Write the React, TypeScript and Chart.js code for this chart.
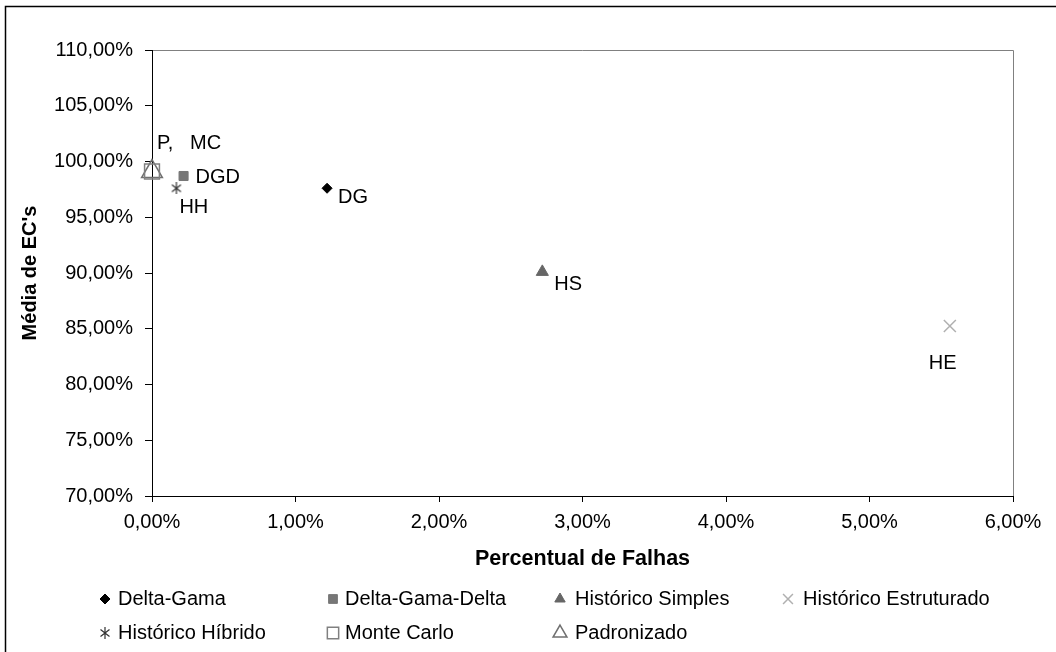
import React, { useEffect, useRef } from 'react';
import { Chart, registerables } from 'chart.js';
import { drawPoint } from 'chart.js/helpers';

Chart.register(...registerables);

// Series (one point each): failure percentage vs. average EC
const seriesNames = [
  'Delta-Gama',
  'Delta-Gama-Delta',
  'Histórico Simples',
  'Histórico Estruturado',
  'Histórico Híbrido',
  'Monte Carlo',
  'Padronizado',
];
const failurePct = [1.22, 0.22, 2.72, 5.56, 0.17, 0.0, 0.0];
const avgEC = [97.6, 98.7, 90.1, 85.25, 97.6, 99.1, 99.1];
const pointTags = ['DG', 'DGD', 'HS', 'HE', 'HH', 'P,   MC', ''];

const xTickValues = [0, 1, 2, 3, 4, 5, 6];
const yTickValues = [70, 75, 80, 85, 90, 95, 100, 105, 110];

const xTitle = 'Percentual de Falhas';
const yTitle = "Média de EC's";

const FONT = '"Liberation Sans", Arial, Helvetica, sans-serif';

// Excel-style asterisk marker: an x with a vertical stroke
function makeAsterisk(size: number, color: string): HTMLCanvasElement {
  const c = document.createElement('canvas');
  c.width = size;
  c.height = size;
  const g = c.getContext('2d')!;
  g.strokeStyle = color;
  g.lineWidth = 1.2;
  g.beginPath();
  const p = 1.5;
  g.moveTo(p, p + 1);
  g.lineTo(size - p, size - p - 1);
  g.moveTo(size - p, p + 1);
  g.lineTo(p, size - p - 1);
  g.moveTo(size / 2, 0);
  g.lineTo(size / 2, size);
  g.stroke();
  return c;
}

type Marker = {
  style: any;
  radius: number;
  legendRadius: number;
  fill: string;
  stroke: string;
  width: number;
};

function buildMarkers(): Marker[] {
  const asterisk = makeAsterisk(12, '#333333');
  return [
    { style: 'rectRot', radius: 5, legendRadius: 5, fill: '#000000', stroke: '#000000', width: 1 },
    { style: 'rect', radius: 6.4, legendRadius: 6.2, fill: '#777777', stroke: '#777777', width: 1 },
    { style: 'triangle', radius: 7, legendRadius: 6, fill: '#666666', stroke: '#666666', width: 1 },
    { style: 'crossRot', radius: 8.5, legendRadius: 7, fill: 'rgba(0,0,0,0)', stroke: '#b0b0b0', width: 1.5 },
    { style: asterisk, radius: 6, legendRadius: 6, fill: 'rgba(0,0,0,0)', stroke: '#333333', width: 1 },
    { style: 'rect', radius: 10.5, legendRadius: 8, fill: 'rgba(0,0,0,0)', stroke: '#808080', width: 1.5 },
    { style: 'triangle', radius: 12, legendRadius: 8, fill: 'rgba(0,0,0,0)', stroke: '#707070', width: 1.5 },
  ];
}

// text offsets of the point tags relative to their marker
const tagOffsets = [
  [11, 9],
  [12, 1],
  [12, 13],
  [-21, 38],
  [3, 19],
  [5, -28],
  [0, 0],
];

const legendMarkerX = [105, 333, 560, 788];
const legendTextX = [118, 345, 575, 803];
const legendRowY = [599, 633];

const fmtPct = (v: number) => v.toFixed(2).replace('.', ',') + '%';

export default function App() {
  const canvasRef = useRef<HTMLCanvasElement | null>(null);

  useEffect(() => {
    const canvas = canvasRef.current;
    if (!canvas) return;
    const markers = buildMarkers();

    const framePlugin = {
      id: 'frame',
      beforeDraw(chart: any) {
        const { ctx, width, height, chartArea } = chart;
        ctx.save();
        ctx.fillStyle = '#ffffff';
        ctx.fillRect(0, 0, width, height);
        // outer chart border
        ctx.strokeStyle = '#000000';
        ctx.lineWidth = 1.5;
        ctx.beginPath();
        ctx.moveTo(5.5, height + 2);
        ctx.lineTo(5.5, 6.5);
        ctx.lineTo(width + 2, 6.5);
        ctx.stroke();
        // plot area border (top and right)
        ctx.strokeStyle = '#808080';
        ctx.lineWidth = 1;
        ctx.beginPath();
        ctx.moveTo(chartArea.left, Math.round(chartArea.top) + 0.5);
        ctx.lineTo(Math.round(chartArea.right) + 0.5, Math.round(chartArea.top) + 0.5);
        ctx.lineTo(Math.round(chartArea.right) + 0.5, chartArea.bottom);
        ctx.stroke();
        ctx.restore();
      },
    };

    const tagPlugin = {
      id: 'pointTags',
      afterDatasetsDraw(chart: any) {
        const ctx = chart.ctx;
        ctx.save();
        ctx.font = `20px ${FONT}`;
        ctx.fillStyle = '#000000';
        ctx.textAlign = 'left';
        ctx.textBaseline = 'middle';
        chart.data.datasets.forEach((_: any, i: number) => {
          const tag = pointTags[i];
          if (!tag) return;
          const el = chart.getDatasetMeta(i).data[0];
          if (!el) return;
          ctx.fillText(tag, el.x + tagOffsets[i][0], el.y + tagOffsets[i][1]);
        });
        ctx.restore();
      },
    };

    const legendPlugin = {
      id: 'gridLegend',
      afterDraw(chart: any) {
        const ctx = chart.ctx;
        ctx.save();
        ctx.font = `20px ${FONT}`;
        ctx.textAlign = 'left';
        ctx.textBaseline = 'middle';
        seriesNames.forEach((name, i) => {
          const col = i % 4;
          const row = Math.floor(i / 4);
          const m = markers[i];
          const x = legendMarkerX[col];
          const y = legendRowY[row];
          ctx.fillStyle = m.fill;
          ctx.strokeStyle = m.stroke;
          ctx.lineWidth = m.width;
          drawPoint(ctx, { pointStyle: m.style, radius: m.legendRadius, rotation: 0, borderWidth: m.width }, x, y);
          ctx.fillStyle = '#000000';
          ctx.fillText(name, legendTextX[col], y);
        });
        ctx.restore();
      },
    };

    const chart = new Chart(canvas, {
      type: 'scatter',
      data: {
        datasets: seriesNames.map((name, i) => ({
          label: name,
          data: [{ x: failurePct[i], y: avgEC[i] }],
          pointStyle: markers[i].style,
          pointRadius: markers[i].radius,
          backgroundColor: markers[i].fill,
          borderColor: markers[i].stroke,
          borderWidth: markers[i].width,
          clip: false as any,
        })),
      },
      options: {
        responsive: false,
        animation: false,
        events: [],
        layout: { padding: { left: 0, top: 50, right: 43, bottom: 76 } },
        plugins: {
          legend: { display: false },
          tooltip: { enabled: false },
        },
        scales: {
          x: {
            type: 'linear',
            min: xTickValues[0],
            max: xTickValues[xTickValues.length - 1],
            afterBuildTicks: (s: any) => {
              s.ticks = xTickValues.map((v) => ({ value: v }));
            },
            afterFit: (s: any) => {
              s.height = 80;
            },
            ticks: {
              callback: (v: any) => fmtPct(Number(v)),
              font: { family: FONT, size: 20 },
              color: '#000000',
              padding: 8,
              maxRotation: 0,
            },
            grid: { drawOnChartArea: false, drawTicks: true, tickLength: 6, color: '#000000', lineWidth: 1 },
            border: { display: true, color: '#000000', width: 1 },
            title: {
              display: true,
              text: xTitle,
              font: { family: FONT, size: 21.5, weight: 'bold' },
              color: '#000000',
              padding: { top: 0, bottom: 4 },
            },
          },
          y: {
            type: 'linear',
            min: yTickValues[0],
            max: yTickValues[yTickValues.length - 1],
            afterBuildTicks: (s: any) => {
              s.ticks = yTickValues.map((v) => ({ value: v }));
            },
            afterFit: (s: any) => {
              s.width = 152;
            },
            ticks: {
              callback: (v: any) => fmtPct(Number(v)),
              font: { family: FONT, size: 20 },
              color: '#000000',
              padding: 12,
            },
            grid: { drawOnChartArea: false, drawTicks: true, tickLength: 7, color: '#000000', lineWidth: 1 },
            border: { display: true, color: '#000000', width: 1 },
            title: {
              display: true,
              text: yTitle,
              font: { family: FONT, size: 20, weight: 'bold' },
              color: '#000000',
              padding: { top: 18, bottom: 0 },
            },
          },
        },
      },
      plugins: [framePlugin, tagPlugin, legendPlugin],
    });

    return () => chart.destroy();
  }, []);

  return (
    <div style={{ position: 'fixed', left: 0, top: 0, width: 1056, height: 652, overflow: 'hidden', background: '#fff' }}>
      <canvas ref={canvasRef} width={1056} height={652} style={{ display: 'block', width: 1056, height: 652 }} />
    </div>
  );
}
